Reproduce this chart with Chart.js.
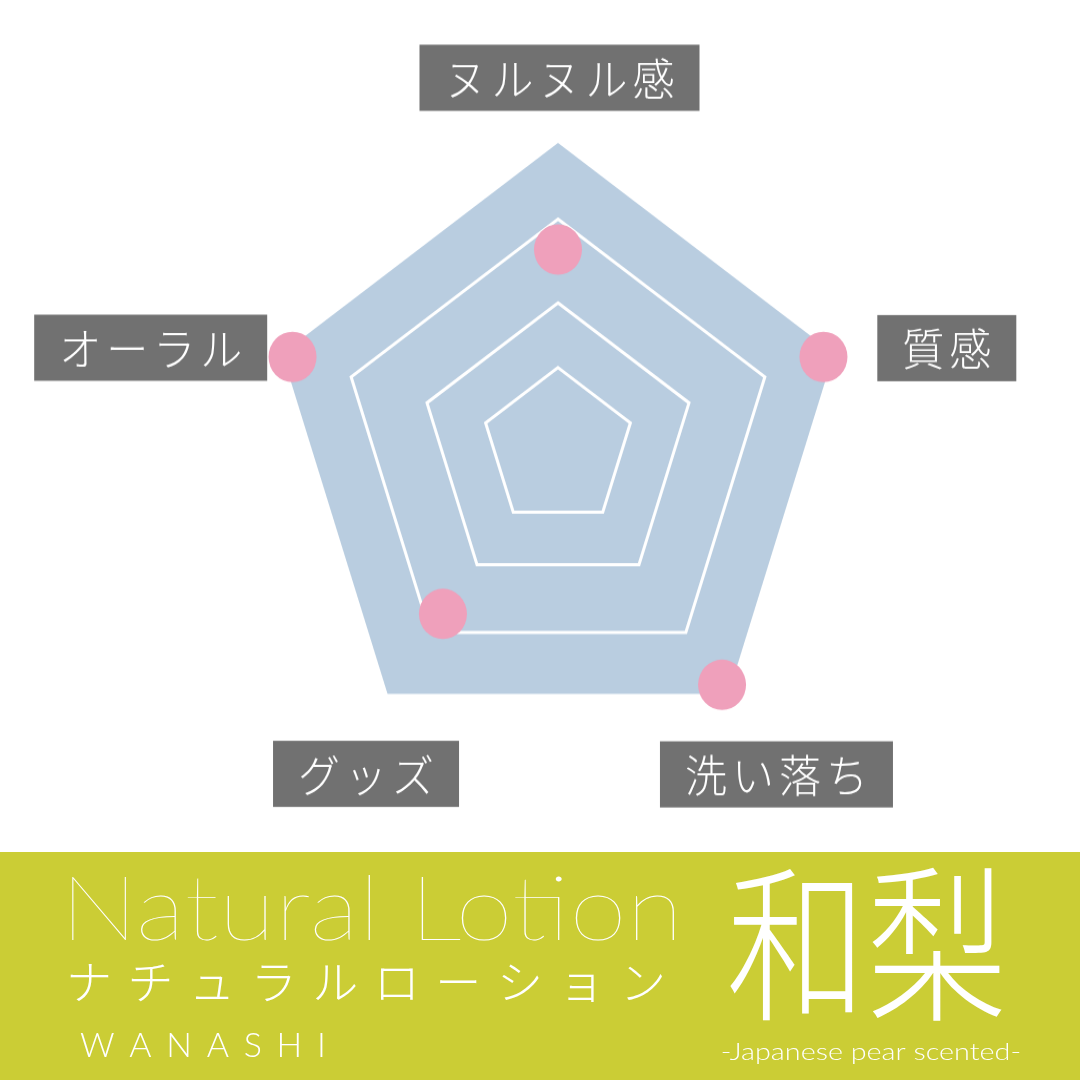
<!DOCTYPE html>
<html lang="ja">
<head>
<meta charset="UTF-8">
<title>和梨 Natural Lotion</title>
<script src="https://cdn.jsdelivr.net/npm/chart.js@4.4.0/dist/chart.umd.min.js"></script>
<style>
	html, body { margin: 0; padding: 0; background: #ffffff; }
	body { width: 1080px; height: 1080px; position: relative; overflow: hidden; }
	#grafico { position: absolute; left: 0; top: 0; }
	#faixa { position: absolute; left: 0; top: 852px; }
</style>
</head>
<body>
<!-- o desenho original é levemente esticado na vertical, por isso o canvas tem 811px e aparece com 852px -->
<canvas id="grafico" width="1080" height="811" style="width:1080px;height:852px"></canvas>
<canvas id="faixa" width="1080" height="228" style="width:1080px;height:228px"></canvas>
<script>
	// Dados do gráfico
	var rotulos = ["ヌルヌル感", "質感", "洗い落ち", "グッズ", "オーラル"];
	var valores = [2.6, 3.85, 3.85, 2.7, 3.85];
	// os anéis do original não são igualmente espaçados
	var niveis = [0, 1.05, 1.9, 3, 4];
	var escalaMin = 0;
	var escalaMax = 4;

	// Cores
	var corFundo = "#b9cde0";
	var corPonto = "#efa0bb";
	var corCaixa = "#717171";
	var corFaixa = "#cbcd35";

	// posição das caixas dos rótulos, relativa ao vértice de cada eixo
	var deslocRotulos = [
		[1.5, -62],
		[113, -5],
		[48, 76.5],
		[-21.5, 76],
		[-131.5, -5.4],
	];
	var alturaCaixa = 63;
	var margemCaixa = 25;
	var espacoLetras = 5;
	var fonteRotulo = "300 42px 'Noto Sans CJK JP', sans-serif";

	function larguraEspacada(ctx, letras, espaco) {
		var total = 0;
		for (var i = 0; i < letras.length; i++) {
			total += ctx.measureText(letras[i]).width;
		}
		return total + espaco * (letras.length - 1);
	}

	var pluginRotulos = {
		id: "rotulos",
		afterDraw: function (chart) {
			var escala = chart.scales.r;
			var ctx = chart.ctx;
			ctx.save();
			ctx.font = fonteRotulo;
			ctx.textBaseline = "middle";
			ctx.textAlign = "left";

			for (var i = 0; i < rotulos.length; i++) {
				var ponto = escala.getPointPosition(i, escala.drawingArea);
				var cx = ponto.x + deslocRotulos[i][0];
				var cy = ponto.y + deslocRotulos[i][1];
				var letras = Array.from(rotulos[i]);
				var larguraTexto = larguraEspacada(ctx, letras, espacoLetras);
				var larguraCaixa = larguraTexto + margemCaixa * 2;

				ctx.fillStyle = corCaixa;
				ctx.fillRect(cx - larguraCaixa / 2, cy - alturaCaixa / 2, larguraCaixa, alturaCaixa);

				ctx.fillStyle = "#ffffff";
				var x = cx - larguraTexto / 2;
				for (var j = 0; j < letras.length; j++) {
					ctx.fillText(letras[j], x, cy + 1);
					x += ctx.measureText(letras[j]).width + espacoLetras;
				}
			}
			ctx.restore();
		},
	};

	var grafico = new Chart(document.getElementById("grafico"), {
		type: "radar",
		data: {
			labels: rotulos,
			datasets: [
				{
					data: valores,
					fill: false,
					borderWidth: 0,
					borderColor: "rgba(0,0,0,0)",
					backgroundColor: "rgba(0,0,0,0)",
					pointRadius: 24,
					pointHoverRadius: 24,
					pointBorderWidth: 0,
					pointBackgroundColor: corPonto,
				},
			],
		},
		options: {
			responsive: false,
			animation: false,
			events: [],
			layout: {
				padding: { left: 268, right: 232, top: 136, bottom: 95 },
			},
			plugins: {
				legend: { display: false },
				tooltip: { enabled: false },
			},
			scales: {
				r: {
					min: escalaMin,
					max: escalaMax,
					backgroundColor: corFundo,
					ticks: { display: false },
					afterBuildTicks: function (escala) {
						escala.ticks = niveis.map((v) => ({ value: v }));
					},
					angleLines: { display: false },
					pointLabels: { display: false },
					grid: {
						lineWidth: 3,
						color: function (contexto) {
							// o anel externo não tem linha, só o preenchimento
							return contexto.tick && contexto.tick.value === escalaMax ? "rgba(0,0,0,0)" : "#ffffff";
						},
					},
				},
			},
		},
		plugins: [pluginRotulos],
	});

	// Faixa inferior com o nome do produto
	var faixa = document.getElementById("faixa");
	var fx = faixa.getContext("2d");

	// ajusta a tinta do texto dentro de um retângulo
	function escreverAjustado(ctx, texto, x0, y0, x1, y1) {
		var m = ctx.measureText(texto);
		var sx = (x1 - x0) / (m.actualBoundingBoxLeft + m.actualBoundingBoxRight);
		var sy = (y1 - y0) / (m.actualBoundingBoxAscent + m.actualBoundingBoxDescent);
		ctx.save();
		ctx.textAlign = "left";
		ctx.textBaseline = "alphabetic";
		ctx.translate(x0, y0);
		ctx.scale(sx, sy);
		ctx.fillText(texto, m.actualBoundingBoxLeft, m.actualBoundingBoxAscent);
		ctx.restore();
	}

	// espalha as letras para ocupar de xIni até xFim
	function escreverEspacado(ctx, texto, xIni, xFim, y) {
		var letras = Array.from(texto);
		var larguras = letras.map((l) => ctx.measureText(l).width);
		var m0 = ctx.measureText(letras[0]);
		var mN = ctx.measureText(letras[letras.length - 1]);
		var soma = 0;
		for (var i = 0; i < letras.length - 1; i++) soma += larguras[i];
		var esp = (xFim - xIni - (m0.actualBoundingBoxLeft + soma + mN.actualBoundingBoxRight)) / (letras.length - 1);
		var x = xIni + m0.actualBoundingBoxLeft;
		for (var i = 0; i < letras.length; i++) {
			ctx.fillText(letras[i], x, y);
			x += larguras[i] + esp;
		}
	}

	fx.fillStyle = corFaixa;
	fx.fillRect(0, 0, faixa.width, faixa.height);
	fx.fillStyle = "#ffffff";

	fx.font = "200 88px Lato, sans-serif";
	escreverAjustado(fx, "Natural Lotion", 72, 23, 675, 89);

	fx.font = "300 46px 'Noto Sans CJK JP', sans-serif";
	fx.textBaseline = "middle";
	escreverEspacado(fx, "ナチュラルローション", 70, 662, 130);

	fx.font = "300 34px Lato, sans-serif";
	fx.textBaseline = "alphabetic";
	escreverEspacado(fx, "WANASHI", 80, 323, 205);

	fx.font = "300 160px 'Noto Sans CJK JP', sans-serif";
	escreverAjustado(fx, "和梨", 730, 16, 1002, 170);

	fx.font = "300 24px Lato, sans-serif";
	fx.textBaseline = "alphabetic";
	var mJ = fx.measureText("-Japanese pear scented-");
	fx.save();
	fx.translate(722, 208);
	fx.scale(298 / (mJ.actualBoundingBoxLeft + mJ.actualBoundingBoxRight), 1);
	fx.fillText("-Japanese pear scented-", mJ.actualBoundingBoxLeft, 0);
	fx.restore();
</script>
</body>
</html>
